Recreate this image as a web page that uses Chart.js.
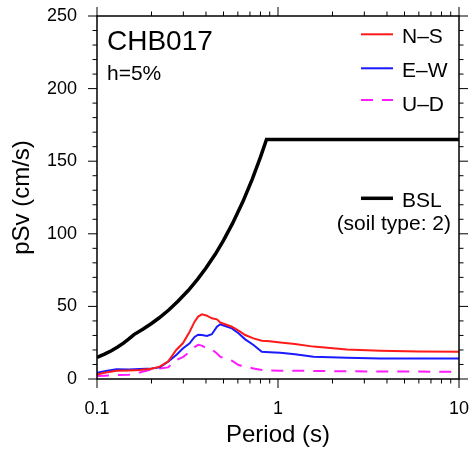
<!DOCTYPE html>
<html>
<head>
<meta charset="utf-8">
<script src="https://cdn.jsdelivr.net/npm/chart.js@4.4.1/dist/chart.umd.min.js"></script>
<style>
  body { margin: 0; background: #fff; }
</style>
</head>
<body>
<canvas id="chart" width="472" height="455"></canvas>
<script>
// periods of the record (s)
const PERIODS = [0.1, 0.11, 0.128, 0.15, 0.172, 0.2, 0.222, 0.247, 0.274, 0.298, 0.325, 0.346, 0.362, 0.38, 0.405, 0.431, 0.46, 0.479, 0.51, 0.556, 0.605, 0.659, 0.732, 0.814, 0.9, 1.03, 1.24, 1.57, 2.4, 3.66, 6, 10]

// pSv of each component (cm/s)
const NS = [3.0, 4.3, 5.7, 5.9, 6.2, 7.0, 8.5, 12, 20, 24.6, 32.6, 39.5, 43, 44.5, 43.6, 41.8, 41.1, 39, 37.7, 36, 33.3, 30.3, 28, 26.4, 26, 25.2, 24.1, 22.3, 20.4, 19.5, 19, 18.8]
const EW = [4.3, 5.3, 6.7, 6.5, 6.9, 7.2, 8, 12, 16.5, 21, 24.6, 29, 30.5, 30.3, 29.6, 30.8, 36, 37.7, 36.5, 34.9, 31.5, 27.3, 23.4, 18.8, 18.5, 18.1, 17, 15.4, 14.7, 14.2, 14.2, 14.1]
const UD = [2.0, 2.3, 2.8, 3.0, 4.5, 6.5, 7.3, 8, 13, 15, 18.8, 22, 23.5, 23, 21, 20.4, 17.5, 15.4, 14, 12.6, 9.6, 8.5, 7.3, 6.2, 5.9, 5.7, 5.7, 5.5, 5.3, 5.2, 5.1, 5.0]

// BSL spectrum, soil type 2
const BSL_PERIODS = [0.1, 0.11, 0.12, 0.13, 0.14, 0.15, 0.16, 0.18, 0.2, 0.22, 0.25, 0.28, 0.32, 0.36, 0.4, 0.45, 0.5, 0.56, 0.64, 0.72, 0.8, 0.864, 1, 2, 5, 10]
const BSL = [14.8, 17.1, 19.5, 22.0, 24.7, 27.6, 30.6, 34.4, 38.2, 42.0, 47.7, 53.5, 61.1, 68.8, 76.4, 85.9, 95.5, 107, 122.2, 137.5, 152.8, 165, 165, 165, 165, 165]

// axis ticks
const X_TICKS = [0.1, 1, 10]
const Y_TICKS = [0, 50, 100, 150, 200, 250]

const FONT = "'Liberation Sans', Arial, Helvetica, sans-serif"


// pairs for the line
function points(xs, ys) {
  return xs.map(function (x, i) {
    return { x: x, y: ys[i] }
  })
}


// one short line
function seg(ctx, x1, y1, x2, y2) {
  ctx.beginPath()
  ctx.moveTo(x1, y1)
  ctx.lineTo(x2, y2)
  ctx.stroke()
}


// box and ticks on all four sides
const boxTicks = {
  id: "boxTicks",
  afterDatasetsDraw(chart) {
    const ctx = chart.ctx
    const a = chart.chartArea
    const sx = chart.scales.x
    const sy = chart.scales.y

    ctx.save()
    ctx.setLineDash([])
    ctx.strokeStyle = "#000"
    ctx.lineWidth = 1.5
    ctx.strokeRect(a.left, a.top, a.right - a.left, a.bottom - a.top)
    ctx.lineWidth = 1

    // y ticks every 10
    for (let v = 0; v <= 250; v += 10) {
      const py = sy.getPixelForValue(v)
      const len = v % 50 === 0 ? 9 : 4.5
      seg(ctx, a.left, py, a.left - len, py)
      seg(ctx, a.right, py, a.right + len, py)
    }

    // x ticks in each decade
    const decades = [0.1, 1]
    decades.forEach(function (d) {
      for (let k = 1; k <= 9; k++) {
        const px = sx.getPixelForValue(d * k)
        const len = k === 1 ? 9 : 4.5
        seg(ctx, px, a.bottom, px, a.bottom + len)
        seg(ctx, px, a.top, px, a.top - len)
      }
    })
    const pEnd = sx.getPixelForValue(10)
    seg(ctx, pEnd, a.bottom, pEnd, a.bottom + 9)
    seg(ctx, pEnd, a.top, pEnd, a.top - 9)

    ctx.restore()
  },
}


// station name and legend
const notes = {
  id: "notes",
  afterDraw(chart) {
    const ctx = chart.ctx
    const sets = chart.data.datasets
    const rows = [34.3, 68.3, 100, 198.3]
    const base = [43.3, 77.3, 111, 206.7]

    ctx.save()
    ctx.fillStyle = "#000"
    ctx.textBaseline = "alphabetic"

    ctx.font = "28px " + FONT
    ctx.fillText("CHB017", 107, 50)
    ctx.font = "21px " + FONT
    ctx.fillText("h=5%", 107, 80)

    // legend rows
    sets.forEach(function (set, i) {
      ctx.strokeStyle = set.borderColor
      ctx.lineWidth = set.borderWidth
      ctx.setLineDash(set.borderDash || [])
      seg(ctx, 361, rows[i], 393, rows[i])
      ctx.fillText(set.label, 402, base[i])
    })

    ctx.textAlign = "right"
    ctx.fillText("(soil type: 2)", 451, 230)
    ctx.restore()
  },
}


// draw chart
new Chart(document.getElementById("chart"), {
  type: "line",
  data: {
    datasets: [
      {
        label: "N\u2013S",
        data: points(PERIODS, NS),
        borderColor: "#ff1a1a",
        borderWidth: 2,
      },
      {
        label: "E\u2013W",
        data: points(PERIODS, EW),
        borderColor: "#1a1aff",
        borderWidth: 2,
      },
      {
        label: "U\u2013D",
        data: points(PERIODS, UD),
        borderColor: "#ff1aff",
        borderWidth: 2,
        borderDash: [12, 9],
      },
      {
        label: "BSL",
        data: points(BSL_PERIODS, BSL),
        borderColor: "#000000",
        borderWidth: 3.5,
      },
    ],
  },
  options: {
    responsive: false,
    animation: false,
    devicePixelRatio: 1,
    layout: { padding: { left: 0, top: 16, right: 13, bottom: 0 } },
    elements: {
      point: { radius: 0 },
      line: { tension: 0, fill: false },
    },
    plugins: {
      legend: { display: false },
      tooltip: { enabled: false },
    },
    scales: {
      x: {
        type: "logarithmic",
        min: 0.1,
        max: 10,
        grid: { display: false, drawTicks: false },
        border: { display: false },
        afterBuildTicks: function (scale) {
          scale.ticks = X_TICKS.map(function (v) { return { value: v } })
        },
        afterFit: function (scale) {
          scale.height = 76
          scale.paddingLeft = 0
          scale.paddingRight = 0
        },
        ticks: {
          autoSkip: false,
          maxRotation: 0,
          padding: 19,
          color: "#000",
          font: { family: FONT, size: 18 },
          callback: function (v) { return String(v) },
        },
        title: {
          display: true,
          text: "Period (s)",
          color: "#000",
          font: { family: FONT, size: 24 },
          padding: { top: 0, bottom: 5 },
        },
      },
      y: {
        min: 0,
        max: 250,
        grid: { display: false, drawTicks: false },
        border: { display: false },
        afterBuildTicks: function (scale) {
          scale.ticks = Y_TICKS.map(function (v) { return { value: v } })
        },
        afterFit: function (scale) {
          scale.width = 97
          scale.paddingTop = 0
          scale.paddingBottom = 0
        },
        ticks: {
          padding: 20,
          color: "#000",
          font: { family: FONT, size: 18 },
        },
        title: {
          display: true,
          text: "pSv (cm/s)",
          color: "#000",
          font: { family: FONT, size: 24 },
          padding: { top: 8, bottom: 0 },
        },
      },
    },
  },
  plugins: [boxTicks, notes],
})
</script>
</body>
</html>
